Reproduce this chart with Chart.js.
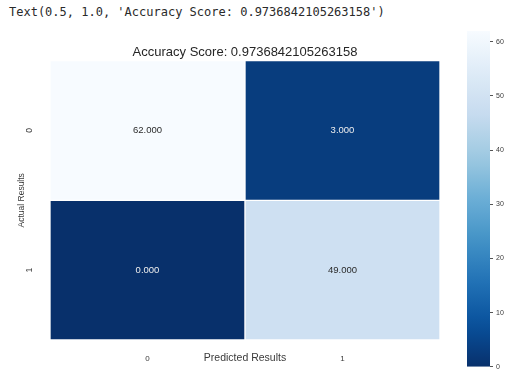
<!DOCTYPE html>
<html>
<head>
<meta charset="utf-8">
<script src="https://cdn.jsdelivr.net/npm/chart.js@4.4.1/dist/chart.umd.min.js"></script>
<style>
  html, body { margin: 0; padding: 0; background: #ffffff; }
  #wrap { position: relative; width: 513px; height: 374px; overflow: hidden; }
  #repr { position: absolute; left: 9px; top: 5px; font-family: "DejaVu Sans Mono", monospace;
          font-size: 12px; color: #2a2a2a; white-space: pre; }
  #heat { position: absolute; left: 0; top: 0; }
  #cbar { position: absolute; left: 440px; top: 0; }
</style>
</head>
<body>
<div id="wrap">
  <div id="repr">Text(0.5, 1.0, 'Accuracy Score: 0.9736842105263158')</div>
  <canvas id="heat" width="460" height="374"></canvas>
  <canvas id="cbar" width="73" height="374"></canvas>
</div>
<script>
// Confusion matrix of the classifier
const predictedLabels = ['0', '1'];
const actualLabels = ['0', '1'];
const row0 = [62, 3];
const row1 = [0, 49];
const rows = [row0, row1];
const colorbarTicks = [0, 10, 20, 30, 40, 50, 60];
const chartTitle = 'Accuracy Score: 0.9736842105263158';

const vmin = 0, vmax = 62;
const textColor = '#3a3a3a';
const baseFont = 'Liberation Sans, Arial, sans-serif';

// "Blues" colour ramp, reversed so high counts are light
const blues = ['#f7fbff', '#deebf7', '#c6dbef', '#9ecae1', '#6baed6',
               '#4292c6', '#2171b5', '#08519c', '#08306b'];
function hexToRgb(h) {
  return [parseInt(h.slice(1, 3), 16), parseInt(h.slice(3, 5), 16), parseInt(h.slice(5, 7), 16)];
}
function bluesAt(p) {
  p = Math.min(1, Math.max(0, p));
  const s = p * (blues.length - 1);
  const i = Math.min(blues.length - 2, Math.floor(s));
  const f = s - i;
  const a = hexToRgb(blues[i]), b = hexToRgb(blues[i + 1]);
  const c = a.map((v, k) => Math.round(v + (b[k] - v) * f));
  return 'rgb(' + c.join(',') + ')';
}
function valueColor(v) {
  return bluesAt(1 - (v - vmin) / (vmax - vmin));
}

// One floating-bar dataset per matrix row; row r spans [r, r+1] on the reversed y scale
const datasets = rows.map((vals, r) => ({
  label: actualLabels[r],
  data: vals.map(() => [r, r + 1]),
  counts: vals,
  backgroundColor: vals.map(valueColor),
  borderColor: '#ffffff',
  borderWidth: 1,
  borderSkipped: false,
  grouped: false,
  barPercentage: 1,
  categoryPercentage: 1
}));

// Writes each cell's count in its centre
const cellLabels = {
  id: 'cellLabels',
  afterDatasetsDraw(chart) {
    const ctx = chart.ctx;
    ctx.save();
    ctx.font = '9.5px ' + baseFont;
    ctx.textAlign = 'center';
    ctx.textBaseline = 'middle';
    chart.data.datasets.forEach((ds, di) => {
      chart.getDatasetMeta(di).data.forEach((el, i) => {
        const v = ds.counts[i];
        const t = (v - vmin) / (vmax - vmin);
        ctx.fillStyle = t > 0.5 ? '#2a2a2a' : '#eeeeee';
        ctx.fillText(v.toFixed(3), el.x, (el.y + el.base) / 2);
      });
    });
    ctx.restore();
  }
};

new Chart(document.getElementById('heat'), {
  type: 'bar',
  data: { labels: predictedLabels, datasets },
  options: {
    responsive: false,
    animation: false,
    layout: { padding: { left: 0, right: 20, top: 40, bottom: 0 } },
    plugins: {
      legend: { display: false },
      tooltip: { enabled: false },
      title: {
        display: true,
        text: chartTitle,
        fullSize: false,
        color: '#262626',
        font: { family: baseFont, size: 13, weight: 'normal' },
        padding: { top: 5, bottom: 0 }
      }
    },
    scales: {
      x: {
        type: 'category',
        grid: { display: false },
        border: { display: false },
        ticks: { color: textColor, font: { family: baseFont, size: 8 }, padding: 6 },
        title: {
          display: true, text: 'Predicted Results', color: textColor,
          font: { family: baseFont, size: 10.5 }, padding: { top: 0, bottom: 10 }
        },
        afterFit(scale) { scale.height = 34; }
      },
      y: {
        type: 'linear',
        min: 0, max: 2, reverse: true,
        grid: { display: false },
        border: { display: false },
        afterBuildTicks(scale) {
          scale.ticks = actualLabels.map((_, i) => ({ value: i + 0.5 }));
        },
        ticks: {
          color: textColor, font: { family: baseFont, size: 8.5 },
          padding: 10, minRotation: 90, maxRotation: 90, crossAlign: 'center',
          callback: (v, i) => actualLabels[i]
        },
        title: {
          display: true, text: 'Actual Results', color: textColor,
          font: { family: baseFont, size: 8.5 }, padding: { top: 17, bottom: 0 }
        },
        afterFit(scale) { scale.width = 50; }
      }
    }
  },
  plugins: [cellLabels]
});

// Colour bar: a single floating bar spanning the value range, filled with the ramp
new Chart(document.getElementById('cbar'), {
  type: 'bar',
  data: {
    labels: [''],
    datasets: [{
      data: [[vmin, vmax]],
      barPercentage: 1,
      categoryPercentage: 1,
      borderWidth: 0,
      backgroundColor(ctx) {
        const area = ctx.chart.chartArea;
        if (!area) return blues[4];
        const g = ctx.chart.ctx.createLinearGradient(0, area.bottom, 0, area.top);
        for (let k = 0; k <= 20; k++) g.addColorStop(k / 20, bluesAt(1 - k / 20));
        return g;
      }
    }]
  },
  options: {
    responsive: false,
    animation: false,
    layout: { padding: { left: 27, right: 0, top: 31, bottom: 4 } },
    plugins: { legend: { display: false }, tooltip: { enabled: false } },
    scales: {
      x: { display: false },
      y: {
        position: 'right',
        min: vmin, max: vmax,
        border: { display: false },
        grid: { drawOnChartArea: false, drawTicks: true, tickLength: 3, color: '#555555' },
        afterBuildTicks(scale) {
          scale.ticks = colorbarTicks.map(v => ({ value: v }));
        },
        ticks: { color: textColor, font: { family: baseFont, size: 7 }, padding: 3 },
        afterFit(scale) { scale.width = 23; }
      }
    }
  }
});
</script>
</body>
</html>
